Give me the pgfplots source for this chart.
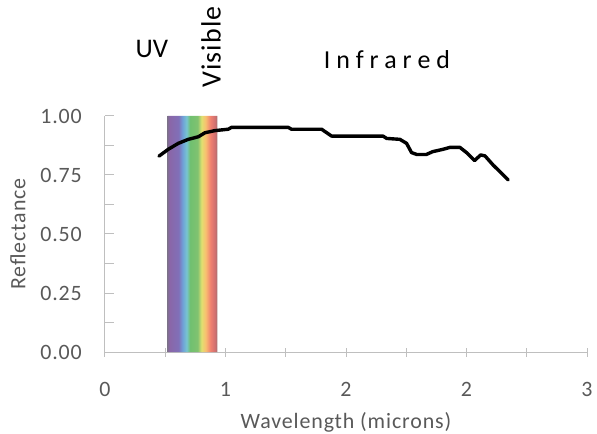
\documentclass[border=0pt]{standalone}
\usepackage{fontspec}
\setmainfont{Carlito}
\newfontfamily\lsfont[LetterSpace=4]{Carlito}
\usepackage{pgfplots}
\pgfplotsset{compat=1.18}
\definecolor{axgray}{HTML}{BFBFBF}
\definecolor{txtgray}{HTML}{595959}
\definecolor{r0}{HTML}{7F6F8F}
\definecolor{r1}{HTML}{8A66A8}
\definecolor{r2}{HTML}{8070B8}
\definecolor{r3}{HTML}{6FA0D8}
\definecolor{r4}{HTML}{78C4D0}
\definecolor{r5}{HTML}{70C070}
\definecolor{r6}{HTML}{80C270}
\definecolor{r7}{HTML}{E0E070}
\definecolor{r8}{HTML}{F8C070}
\definecolor{r9}{HTML}{F08070}
\definecolor{r10}{HTML}{D07070}
\definecolor{r11}{HTML}{A07070}
\pgfdeclarehorizontalshading{rainbow}{100bp}{color(0bp)=(r0); color(25bp)=(r0); color(27bp)=(r1); color(36bp)=(r2); color(40bp)=(r3); color(44bp)=(r4); color(47.5bp)=(r5); color(55bp)=(r6); color(59bp)=(r7); color(63bp)=(r8); color(68bp)=(r9); color(72.5bp)=(r10); color(75bp)=(r11); color(100bp)=(r11)}
\begin{document}
\begin{tikzpicture}
\useasboundingbox (-105bp,-82bp) rectangle (492bp,352bp);
\begin{axis}[
  at={(0,0)}, anchor=south west,
  scale only axis, width=482bp, height=236bp,
  xmin=0, xmax=3, ymin=0, ymax=1,
  axis x line=bottom, axis y line=left,
  axis line style={-, axgray, line width=1bp},
  clip=false,
  xtick={0,0.375,0.75,1.125,1.5,1.875,2.25,2.625,3},
  xticklabels={0,,1,,2,,2,,3},
  ytick={0,0.125,0.25,0.375,0.5,0.625,0.75,0.875,1},
  yticklabels={0.00,,0.25,,0.50,,0.75,,1.00},
  /pgf/number format/assume math mode=true,
  x tick style={axgray, line width=1bp}, y tick style={axgray, line width=1bp},
  xtick align=center, ytick align=inside,
  major tick length=9bp,
  xticklabel style={font=\lsfont\fontsize{22}{26}\selectfont, text=txtgray, anchor=center, inner sep=0pt, yshift=-33bp},
  yticklabel style={font=\lsfont\fontsize{22}{26}\selectfont, text=txtgray, anchor=east, inner sep=0pt, xshift=-23bp},
  xlabel={Wavelength (microns)}, ylabel={Reflectance},
  every axis x label/.style={at={(axis description cs:0.5,0)}, anchor=center, yshift=-70bp, font=\lsfont\fontsize{22}{26}\selectfont, text=txtgray},
  every axis y label/.style={at={(axis description cs:-0.1805,0.5)}, anchor=center, rotate=90, font=\lsfont\fontsize{22}{26}\selectfont, text=txtgray},
]
\addplot[draw=none, shading=rainbow] coordinates {(0.39,0) (0.70,0) (0.70,1) (0.39,1)} \closedcycle;
\addplot[black, line width=3.4bp, line join=round, line cap=round] coordinates {
(0.336,0.830) (0.394,0.859) (0.456,0.884) (0.518,0.901) (0.581,0.912)
(0.622,0.929) (0.684,0.938) (0.767,0.944) (0.788,0.952) (1.140,0.952)
(1.160,0.944) (1.348,0.944) (1.410,0.915) (1.730,0.915) (1.753,0.905)
(1.836,0.901) (1.877,0.884) (1.908,0.845) (1.940,0.837) (2.000,0.837)
(2.040,0.849) (2.105,0.859) (2.147,0.867) (2.167,0.867) (2.209,0.867)
(2.250,0.845) (2.300,0.811) (2.338,0.835) (2.365,0.831) (2.416,0.792)
(2.458,0.764) (2.510,0.729)};
\node[font=\fontsize{27}{31}\selectfont, black] at (axis cs:0.292,1.286) {UV};
\node[font=\lsfont\fontsize{28}{32}\selectfont, black, rotate=90] at (axis cs:0.66,1.292) {Visible};
\node[font=\fontsize{26}{30}\selectfont, black] at (axis cs:1.755,1.24) {I n f r a r e d};
\end{axis}
\end{tikzpicture}
\end{document}
